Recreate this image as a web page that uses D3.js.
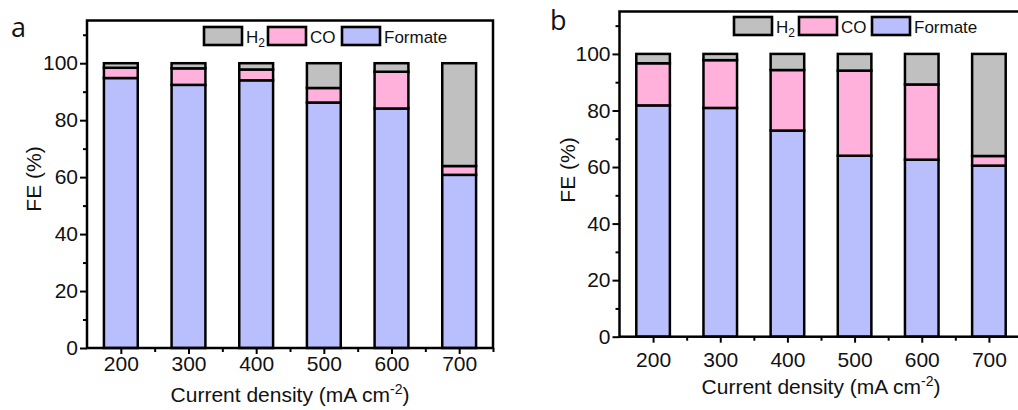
<!doctype html>
<html lang="en">
<head>
  <meta charset="utf-8">
  <title>FE vs current density</title>
  <script src="https://cdn.jsdelivr.net/npm/d3@7"></script>
  <style>
    body { margin: 0; background: #fff; }
    svg text { font-family: "Liberation Sans", Arial, sans-serif; fill: #111; }
    .letter { font-family: "Open Sans", "DejaVu Sans", sans-serif; }
  </style>
</head>
<body>
<svg id="chart" width="1018" height="410"></svg>

<script>
// current densities (mA cm-2)
var currents = [200, 300, 400, 500, 600, 700];

// panel a, FE (%)
var formateA = [94.8, 92.4, 94.0, 86.2, 84.1, 60.8];
var coA      = [3.6, 5.8, 3.8, 5.1, 12.9, 3.1];
var h2A      = [1.6, 1.8, 2.2, 8.7, 3.0, 36.1];

// panel b, FE (%)
var formateB = [81.8, 80.9, 72.9, 64.0, 62.6, 60.5];
var coB      = [14.9, 16.9, 21.4, 30.1, 26.6, 3.4];
var h2B      = [3.3, 2.2, 5.7, 5.9, 10.8, 36.1];

var yTicks = [0, 20, 40, 60, 80, 100];
var yMinor = [10, 30, 50, 70, 90, 110];
var xMinor = [250, 350, 450, 550, 650, 750];

var keys = ["Formate", "CO", "H2"];
var colors = { "Formate": "#b9bffd", "CO": "#ffb1dc", "H2": "#c0c0c0" };

var svg = d3.select("#chart");

function drawPanel(o) {
  var x = d3.scaleLinear().domain([150, 750]).range([o.left, o.right]);
  var y = d3.scaleLinear().domain([0, 115]).range([o.bottom, o.top]);
  var g = svg.append("g");

  var rows = currents.map(function(c, i) {
    return { c: c, Formate: o.formate[i], CO: o.co[i], H2: o.h2[i] };
  });
  var series = d3.stack().keys(keys)(rows);
  var bw = x(225) - x(175);

  g.selectAll("g.s").data(series).join("g")
    .attr("fill", function(d) { return colors[d.key]; })
    .selectAll("rect").data(function(d) { return d; }).join("rect")
      .attr("x", function(d) { return x(d.data.c) - bw / 2; })
      .attr("width", bw)
      .attr("y", function(d) { return y(d[1]); })
      .attr("height", function(d) { return y(d[0]) - y(d[1]); })
      .attr("stroke", "#000")
      .attr("stroke-width", 2.5);

  // axes
  g.append("g").attr("transform", "translate(" + o.left + ",0)")
    .call(d3.axisLeft(y).tickValues(yTicks).tickSize(7).tickPadding(2));
  g.append("g").attr("transform", "translate(" + o.left + ",0)")
    .call(d3.axisLeft(y).tickValues(yMinor).tickSize(4).tickFormat(""));
  g.append("g").attr("transform", "translate(0," + o.bottom + ")")
    .call(d3.axisBottom(x).tickValues(currents).tickSize(6).tickPadding(o.xpad));
  g.append("g").attr("transform", "translate(0," + o.bottom + ")")
    .call(d3.axisBottom(x).tickValues(xMinor).tickSize(4).tickFormat(""));
  g.selectAll(".domain").remove();
  g.selectAll(".tick line").attr("stroke", "#000").attr("stroke-width", 2);
  g.selectAll(".tick text").style("font-size", "21px")
    .style("font-family", "'Liberation Sans', Arial, sans-serif").attr("fill", "#111");

  // frame
  g.append("rect")
    .attr("x", o.left).attr("y", o.top)
    .attr("width", o.right - o.left).attr("height", o.bottom - o.top)
    .attr("fill", "none").attr("stroke", "#000").attr("stroke-width", 2.5);

  // titles
  g.append("text")
    .attr("transform", "translate(" + o.ylabX + "," + o.ylabY + ") rotate(-90)")
    .attr("text-anchor", "middle").style("font-size", "21px").text("FE (%)");
  var t = g.append("text")
    .attr("x", o.xlabX).attr("y", o.xlabY)
    .attr("text-anchor", "middle").style("font-size", "21px");
  t.append("tspan").text("Current density (mA cm");
  t.append("tspan").attr("dy", -8).style("font-size", "14px").text("-2");
  t.append("tspan").attr("dy", 8).text(")");

  g.append("text").attr("class", "letter")
    .attr("x", o.letterX).attr("y", o.letterY)
    .style("font-size", "27px").text(o.letter);

  // legend
  var leg = [["H2", "H"], ["CO", "CO"], ["Formate", "Formate"]];
  leg.forEach(function(l, i) {
    var bx = o.legX[i];
    g.append("rect").attr("x", bx).attr("y", o.legY)
      .attr("width", 38).attr("height", 18)
      .attr("fill", colors[l[0]]).attr("stroke", "#000").attr("stroke-width", 2.6);
    var lt = g.append("text").attr("x", bx + 42).attr("y", o.legY + 15.5)
      .style("font-size", "17px").text(l[1]);
    if (l[0] === "H2") {
      lt.append("tspan").attr("dy", 4).style("font-size", "12px").text("2");
    }
  });
}

drawPanel({
  letter: "a", letterX: 11, letterY: 37,
  formate: formateA, co: coA, h2: h2A,
  left: 87, right: 493, top: 20.5, bottom: 348,
  xpad: 2, ylabX: 41, ylabY: 179, xlabX: 290, xlabY: 402,
  legX: [204, 268, 342], legY: 27
});

drawPanel({
  letter: "b", letterX: 550, letterY: 30,
  formate: formateB, co: coB, h2: h2B,
  left: 619.5, right: 1022.5, top: 11.5, bottom: 336.7,
  xpad: 9, ylabX: 575, ylabY: 170, xlabX: 821, xlabY: 394,
  legX: [734, 799, 872], legY: 17
});
</script>
</body>
</html>
